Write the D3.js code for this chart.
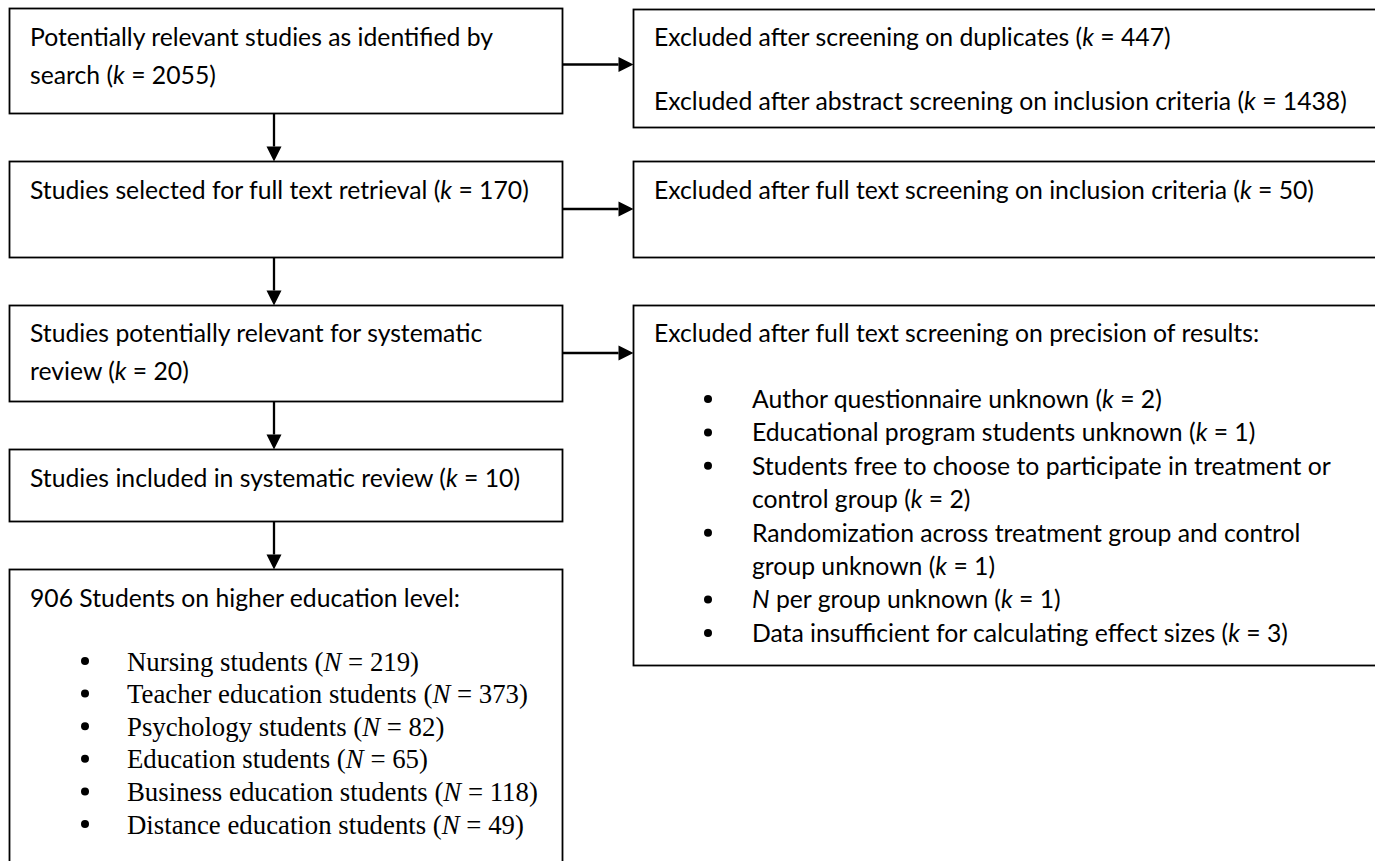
<!DOCTYPE html>
<html>
<head>
<meta charset="utf-8">
<script src="https://cdn.jsdelivr.net/npm/d3@7"></script>
<style>
  body { margin: 0; background: #fff; }
  svg { display: block; }
  .box { fill: #fff; stroke: #000; stroke-width: 1.8; }
  .link { stroke: #000; stroke-width: 2.3; fill: none; }
  .head { fill: #000; stroke: none; }
  .dot { fill: #000; }
  .sans { font-family: Lato, "Noto Sans", sans-serif; font-size: 20px; fill: #000; }
  .serif { font-family: "Liberation Serif", "DejaVu Serif", serif; font-size: 24px; fill: #000; }
</style>
</head>
<body>
<script>
// flow steps down the left side, the k count goes at the end of the last line
var stepLines = [
  ['Potentially relevant studies as identified by', 'search'],
  ['Studies selected for full text retrieval'],
  ['Studies potentially relevant for systematic', 'review'],
  ['Studies included in systematic review']
]
var stepK = [2055, 170, 20, 10]

// exclusions on the right
var exclusionLabels = [
  'Excluded after screening on duplicates',
  'Excluded after abstract screening on inclusion criteria',
  'Excluded after full text screening on inclusion criteria'
]
var exclusionK = [447, 1438, 50]

var precisionHeading = 'Excluded after full text screening on precision of results:'
var precisionReasons = [
  ['Author questionnaire unknown'],
  ['Educational program students unknown'],
  ['Students free to choose to participate in treatment or', 'control group'],
  ['Randomization across treatment group and control', 'group unknown'],
  ['*N* per group unknown'],
  ['Data insufficient for calculating effect sizes']
]
var precisionK = [2, 1, 2, 1, 1, 3]

var sampleTotal = 906
var studentGroups = ['Nursing students', 'Teacher education students', 'Psychology students',
  'Education students', 'Business education students', 'Distance education students']
var studentN = [219, 373, 82, 65, 118, 49]

var width = 1375, height = 861
var svg = d3.select('body').append('svg').attr('width', width).attr('height', height)

// layout
var L = {x0: 9.5, x1: 562.5, tx: 30, mid: 274}
var R = {x0: 633.5, x1: 1400, tx: 654}
var stepBoxes = [
  {y0: 8.5, y1: 113.5, lines: [37, 75]},
  {y0: 161.5, y1: 257.5, lines: [190]},
  {y0: 305.5, y1: 401.5, lines: [333, 371]},
  {y0: 449.5, y1: 521.5, lines: [478]}
]
var sampleBox = {y0: 569.5, y1: 900}
var exclBoxes = [
  {y0: 9.5, y1: 127.5, arrowY: 64.5},
  {y0: 161.5, y1: 257.5, arrowY: 209},
  {y0: 305.5, y1: 665.5, arrowY: 353}
]
var reasonRow = d3.scaleLinear().domain([0, 7]).range([399, 633])
var groupRow = d3.scaleLinear().domain([0, 5]).range([661, 824])

function addText(g, str, x, y, cls){
  var t = g.append('text').attr('class', cls).attr('x', x).attr('y', y).attr('dy', '0.36em')
  str.split('*').forEach(function(part, i){
    if (!part) return
    t.append('tspan').text(part).style('font-style', i % 2 ? 'italic' : null)
  })
  return t
}

function box(x0, x1, y0, y1){
  svg.append('rect').attr('class', 'box')
    .attr('x', x0).attr('y', y0).attr('width', x1 - x0).attr('height', y1 - y0)
}

function arrow(x1, y1, x2, y2){
  var len = 15, half = 7.5
  var dx = Math.sign(x2 - x1), dy = Math.sign(y2 - y1)
  svg.append('line').attr('class', 'link')
    .attr('x1', x1).attr('y1', y1).attr('x2', x2 - dx * len).attr('y2', y2 - dy * len)
  var pts = dx
    ? [[x2, y2], [x2 - dx * len, y2 - half], [x2 - dx * len, y2 + half]]
    : [[x2, y2], [x2 - half, y2 - dy * len], [x2 + half, y2 - dy * len]]
  svg.append('path').attr('class', 'head').attr('d', d3.line()(pts) + 'Z')
}

// left column
stepBoxes.forEach(function(b, i){
  box(L.x0, L.x1, b.y0, b.y1)
  stepLines[i].forEach(function(line, j){
    var s = line
    if (j == stepLines[i].length - 1) s += ' (*k* = ' + stepK[i] + ')'
    addText(svg, s, L.tx, b.lines[j], 'sans')
  })
  var next = i < stepBoxes.length - 1 ? stepBoxes[i + 1].y0 : sampleBox.y0
  arrow(L.mid, b.y1, L.mid, next)
})

box(L.x0, L.x1, sampleBox.y0, sampleBox.y1)
addText(svg, sampleTotal + ' Students on higher education level:', L.tx, 598, 'sans')
studentGroups.forEach(function(name, i){
  svg.append('circle').attr('class', 'dot').attr('cx', 85).attr('cy', groupRow(i)).attr('r', 4)
  addText(svg, name + ' (*N* = ' + studentN[i] + ')', 127, groupRow(i), 'serif')
})

// right column
exclBoxes.forEach(function(b, i){
  box(R.x0, R.x1, b.y0, b.y1)
  arrow(L.x1, b.arrowY, R.x0, b.arrowY)
})
addText(svg, exclusionLabels[0] + ' (*k* = ' + exclusionK[0] + ')', R.tx, 37, 'sans')
var fitLine = addText(svg, exclusionLabels[1] + ' (*k* = ' + exclusionK[1] + ')', R.tx, 101, 'sans')
addText(svg, exclusionLabels[2] + ' (*k* = ' + exclusionK[2] + ')', R.tx, 190, 'sans')

addText(svg, precisionHeading, R.tx, 333, 'sans')
var row = 0
precisionReasons.forEach(function(lines, i){
  svg.append('circle').attr('class', 'dot').attr('cx', 708).attr('cy', reasonRow(row)).attr('r', 4)
  lines.forEach(function(line, j){
    var s = line
    if (j == lines.length - 1) s += ' (*k* = ' + precisionK[i] + ')'
    addText(svg, s, 752, reasonRow(row), 'sans')
    row++
  })
})

// size the substitute fonts so line lengths match the original document
var serifLine = svg.selectAll('text.serif').filter(function(d, i){ return i == 1 })
var sansScale = 693 / fitLine.node().getComputedTextLength()
var serifScale = 401 / serifLine.node().getComputedTextLength()
svg.selectAll('text.sans').style('font-size', (20 * sansScale) + 'px')
svg.selectAll('text.serif').style('font-size', (24 * serifScale) + 'px')
</script>
</body>
</html>
